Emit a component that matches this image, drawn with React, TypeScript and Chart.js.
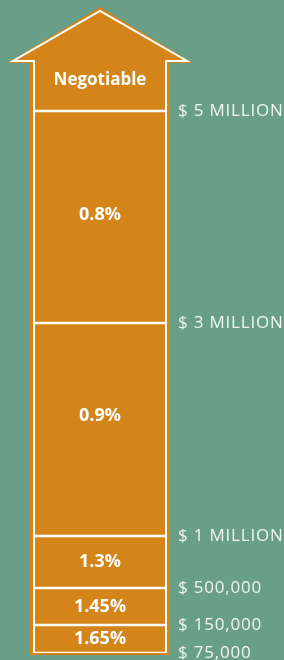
import React, { useEffect, useRef } from "react";
import { Chart, registerables } from "chart.js";

Chart.register(...registerables);

// Tier bands, bottom to top
const bandLabels = ["1.65%", "1.45%", "1.3%", "0.9%", "0.8%", "Negotiable"];
// visual height of each band (as drawn in the graphic)
const bandSizes = [28, 37, 52, 213, 212, 49];
// threshold tick labels at band boundaries, bottom to top
const thresholdLabels = ["$ 75,000", "$ 150,000", "$ 500,000", "$ 1 MILLION", "$ 3 MILLION", "$ 5 MILLION"];

// styles
const BG = "#699e87";
const ORANGE = "#d4851a";
const WHITE = "#ffffff";
const TICK_COLOR = "#f0f6f2";
const labelNudge = [0, 0, 0, -14, -2, -6];

export default function App() {
  const ref = useRef<HTMLCanvasElement | null>(null);

  useEffect(() => {
    document.body.style.margin = "0";
    const canvas = ref.current;
    if (!canvas) return;

    const boundaries: number[] = [];
    let acc = 0;
    for (let i = 0; i < thresholdLabels.length; i++) {
      boundaries.push(acc);
      acc += bandSizes[i];
    }
    const total = bandSizes.reduce((a, b) => a + b, 0);

    const arrowPlugin = {
      id: "arrowShape",
      beforeDraw(chart: any) {
        chart.ctx.letterSpacing = "0.8px";
      },
      beforeDatasetsDraw(chart: any) {
        const ctx = chart.ctx;
        ctx.letterSpacing = "0px";
        const { left: L, right: R, top: T, bottom: B } = chart.chartArea;
        const cx = (L + R) / 2;
        ctx.save();
        ctx.fillStyle = ORANGE;
        ctx.beginPath();
        ctx.moveTo(L - 3, B + 2);
        ctx.lineTo(L - 3, T + 1);
        ctx.lineTo(cx - 93, T + 1);
        ctx.lineTo(cx, T - 55);
        ctx.lineTo(cx + 93, T + 1);
        ctx.lineTo(R + 3, T + 1);
        ctx.lineTo(R + 3, B + 2);
        ctx.closePath();
        ctx.fill();
        ctx.restore();
      },
      afterDatasetsDraw(chart: any) {
        const ctx = chart.ctx;
        const { left: L, right: R, top: T } = chart.chartArea;
        const cx = (L + R) / 2;
        ctx.save();
        ctx.strokeStyle = WHITE;
        ctx.lineWidth = 2;
        ctx.lineJoin = "miter";
        ctx.beginPath();
        ctx.moveTo(L + 1, T + 1);
        ctx.lineTo(L + 1, T - 1);
        ctx.lineTo(cx - 87, T - 1);
        ctx.lineTo(cx, T - 51);
        ctx.lineTo(cx + 87, T - 1);
        ctx.lineTo(R - 1, T - 1);
        ctx.lineTo(R - 1, T + 1);
        ctx.stroke();

        ctx.fillStyle = WHITE;
        ctx.textAlign = "center";
        ctx.textBaseline = "middle";
        chart.data.datasets.forEach((ds: any, i: number) => {
          const el = chart.getDatasetMeta(i).data[0];
          if (!el) return;
          const props = el.getProps(["x", "y", "base"], true);
          const cy = (props.y + props.base) / 2 + labelNudge[i];
          ctx.font = i === bandLabels.length - 1 ? "bold 17px 'Open Sans'" : "bold 18px 'Open Sans'";
          ctx.fillText(ds.label, props.x, cy);
        });
        ctx.restore();
      },
    };

    const chart = new Chart(canvas, {
      type: "bar",
      data: {
        labels: [""],
        datasets: bandLabels.map((label, i) => ({
          label,
          data: [bandSizes[i]],
          stack: "tiers",
          backgroundColor: ORANGE,
          borderColor: WHITE,
          borderWidth: { left: 2, right: 2, top: 1.5, bottom: 1.5 },
          borderSkipped: i === bandLabels.length - 1 ? "top" : false,
          inflateAmount: 0,
          barPercentage: 1,
          categoryPercentage: 1,
        })),
      },
      options: {
        responsive: false,
        animation: false,
        devicePixelRatio: 1,
        layout: { padding: { left: 33, top: 62, bottom: 7, right: 0 } },
        plugins: {
          legend: { display: false },
          tooltip: { enabled: false },
        },
        scales: {
          x: { display: false, stacked: true },
          y: {
            position: "right",
            stacked: true,
            min: 0,
            max: total,
            grid: { display: false, drawTicks: false },
            border: { display: false },
            afterBuildTicks: (scale: any) => {
              scale.ticks = boundaries.map((v) => ({ value: v }));
            },
            afterFit: (scale: any) => {
              scale.width = 117;
              scale.paddingTop = 0;
              scale.paddingBottom = 0;
            },
            ticks: {
              autoSkip: false,
              padding: 11,
              color: TICK_COLOR,
              font: { family: "'Open Sans'", size: 17, weight: "400" },
              callback: (_v: any, index: number) => thresholdLabels[index],
            },
          },
        },
      },
      plugins: [arrowPlugin],
    });

    return () => chart.destroy();
  }, []);

  return (
    <div style={{ width: 284, height: 660, background: BG }}>
      <canvas ref={ref} width={284} height={660} style={{ display: "block" }} />
    </div>
  );
}
